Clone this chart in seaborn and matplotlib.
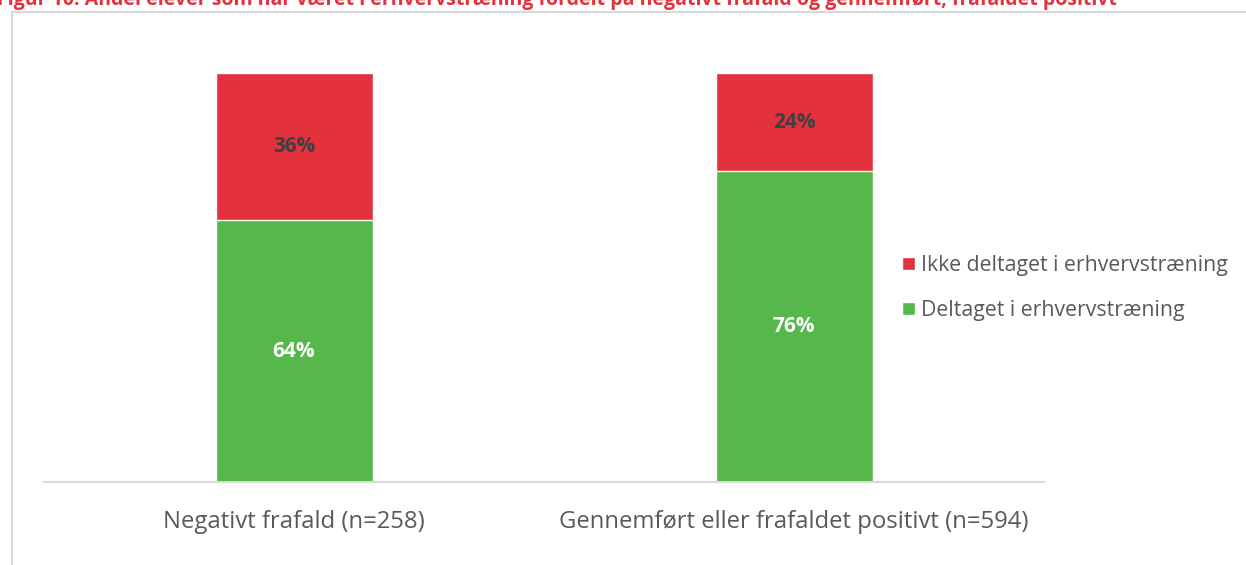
import pandas as pd
import seaborn as sns
import matplotlib.pyplot as plt
from matplotlib.patches import Rectangle

# Data
categories = ["Negativt frafald (n=258)", "Gennemført eller frafaldet positivt (n=594)"]
deltaget = [64, 76]
ikke_deltaget = [36, 24]
series_names = ["Deltaget i erhvervstræning", "Ikke deltaget i erhvervstræning"]
title = ("Figur 10: Andel elever som har været i erhvervstræning fordelt på "
         "negativt frafald og gennemført, frafaldet positivt")

df = pd.DataFrame({"kategori": categories,
                   "deltaget": deltaget,
                   "ikke": ikke_deltaget})
df["total"] = df["deltaget"] + df["ikke"]

green = "#56B84A"
red = "#E3323D"
text_grey = "#595959"

sns.set_style("white")
plt.rcParams["font.family"] = ["Open Sans", "DejaVu Sans"]

W, H = 1246, 565
fig = plt.figure(figsize=(W / 100, H / 100), dpi=100)
ax = fig.add_axes([44 / W, 83 / H, 1000 / W, 409 / H])

# stacked bars: red total behind, green on top
sns.barplot(data=df, x="kategori", y="total", color=red, width=0.314,
            saturation=1, ax=ax, label=series_names[1])
sns.barplot(data=df, x="kategori", y="deltaget", color=green, width=0.314,
            saturation=1, ax=ax, label=series_names[0])

ax.set_ylim(0, 100)
ax.set_xlim(-0.5, 1.5)
ax.set_xlabel("")
ax.set_ylabel("")
ax.set_yticks([])
ax.tick_params(axis="x", length=0, pad=20, labelsize=17.2, labelcolor=text_grey)
for s in ["top", "right", "left"]:
    ax.spines[s].set_visible(False)
ax.spines["bottom"].set_color("#D9D9D9")
ax.spines["bottom"].set_linewidth(1.5)

# value labels
for i in range(len(categories)):
    ax.text(i, deltaget[i] / 2, f"{deltaget[i]}%", ha="center", va="center",
            color="white", fontsize=15, fontweight="bold")
    ax.text(i, deltaget[i] + ikke_deltaget[i] / 2, f"{ikke_deltaget[i]}%",
            ha="center", va="center", color="#404040", fontsize=15,
            fontweight="bold")

handles, labels = ax.get_legend_handles_labels()
ax.legend(handles, labels, loc="center left",
          bbox_to_anchor=(902 / W, 277 / H), bbox_transform=fig.transFigure,
          frameon=False, fontsize=15.3, labelcolor=text_grey, borderpad=0,
          borderaxespad=0, handlelength=0.6, handleheight=0.6,
          handletextpad=0.3, labelspacing=1.15)

# chart border
fig.patches.append(Rectangle((12 / W, -0.1), 1.2, (H - 12) / H + 0.1,
                             transform=fig.transFigure, fill=False,
                             edgecolor="#D9D9D9", linewidth=1.5))

# title, partly cut off at the top as in the source
fig.text(-3 / W, 1 - 4.5 / H, title, ha="left", va="baseline", color=red,
         fontsize=14, fontweight="bold")

fig.savefig("out.png", dpi=100)
